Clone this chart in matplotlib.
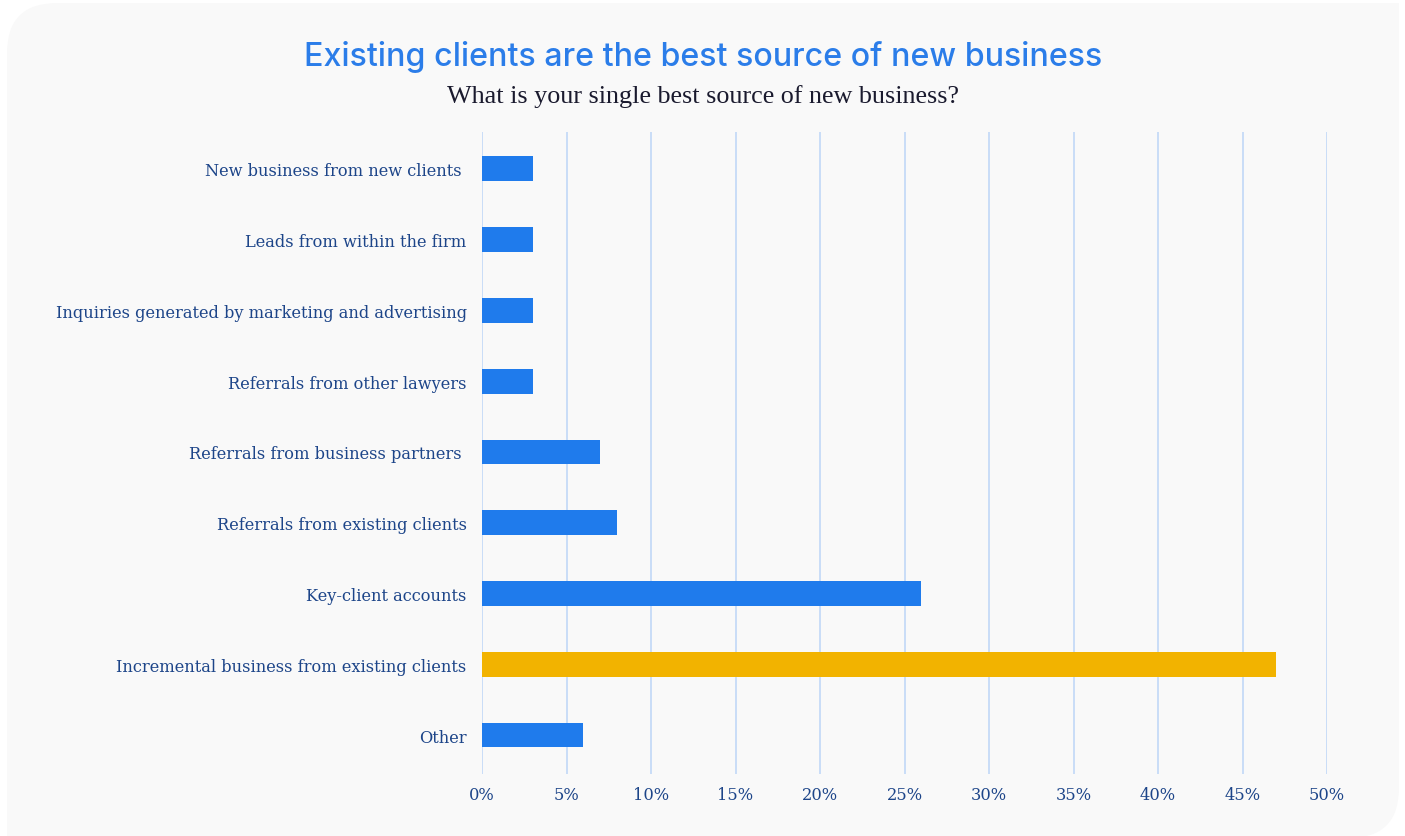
import matplotlib.pyplot as plt
from matplotlib.patches import FancyBboxPatch, Rectangle
from matplotlib.transforms import IdentityTransform
from matplotlib.ticker import FuncFormatter

categories = [
    'New business from new clients ',
    'Leads from within the firm',
    'Inquiries generated by marketing and advertising',
    'Referrals from other lawyers',
    'Referrals from business partners ',
    'Referrals from existing clients',
    'Key-client accounts',
    'Incremental business from existing clients',
    'Other',
]
values = [3, 3, 3, 3, 7, 8, 26, 47, 6]
highlight = 'Incremental business from existing clients'
xticks = [0, 5, 10, 15, 20, 25, 30, 35, 40, 45, 50]

blue = '#1f7bec'
gold = '#f2b300'
navy = '#1d4589'
grid_col = '#c6dbf7'
panel_col = '#f9f9f9'

W, H = 1405, 837
fig = plt.figure(figsize=(W / 100, H / 100), dpi=100)
fig.patch.set_facecolor('white')

# background card: rounded top-left and bottom-right, square elsewhere
r = 50
px = IdentityTransform()
fig.patches.append(FancyBboxPatch((7, -2), 1392, H - 2, boxstyle=f'round,pad=0,rounding_size={r}',
                                  transform=px, facecolor=panel_col, edgecolor='none', zorder=-10))
fig.patches.append(Rectangle((1399 - r, H - 4 - r), r, r, transform=px,
                             facecolor=panel_col, edgecolor='none', zorder=-10))
fig.patches.append(Rectangle((7, -5), r, r + 10, transform=px,
                             facecolor=panel_col, edgecolor='none', zorder=-10))

ax = fig.add_axes([482 / W, 62 / H, 845 / W, 642 / H])
ax.set_facecolor('none')

colors = [gold if c == highlight else blue for c in categories]
pos = list(range(len(categories)))
ax.barh(pos, values, height=0.35, color=colors, zorder=3)

ax.set_xlim(0, 50)
ax.set_ylim(len(categories) - 0.45, -0.52)
ax.set_xticks(xticks)
ax.xaxis.set_major_formatter(FuncFormatter(lambda v, p: f'{v:.0f}%'))
ax.set_yticks(pos)
ax.set_yticklabels(categories)
ax.grid(axis='x', color=grid_col, linewidth=1.3, zorder=0)
ax.tick_params(length=0, colors=navy, labelsize=11.7)
ax.tick_params(axis='y', pad=11)
ax.tick_params(axis='x', pad=9)
for lab in ax.get_xticklabels() + ax.get_yticklabels():
    lab.set_fontfamily('DejaVu Serif')
for s in ax.spines.values():
    s.set_visible(False)

fig.text(703 / W, 1 - 57 / H, 'Existing clients are the best source of new business',
         ha='center', va='center', fontsize=23.2, color='#2b7de9', family='Inter', weight='medium')
fig.text(703 / W, 1 - 97 / H, 'What is your single best source of new business?',
         ha='center', va='center', fontsize=18.8, color='#1a1a2e', family='Liberation Serif')

fig.savefig('out.png', dpi=100, facecolor=fig.get_facecolor())
